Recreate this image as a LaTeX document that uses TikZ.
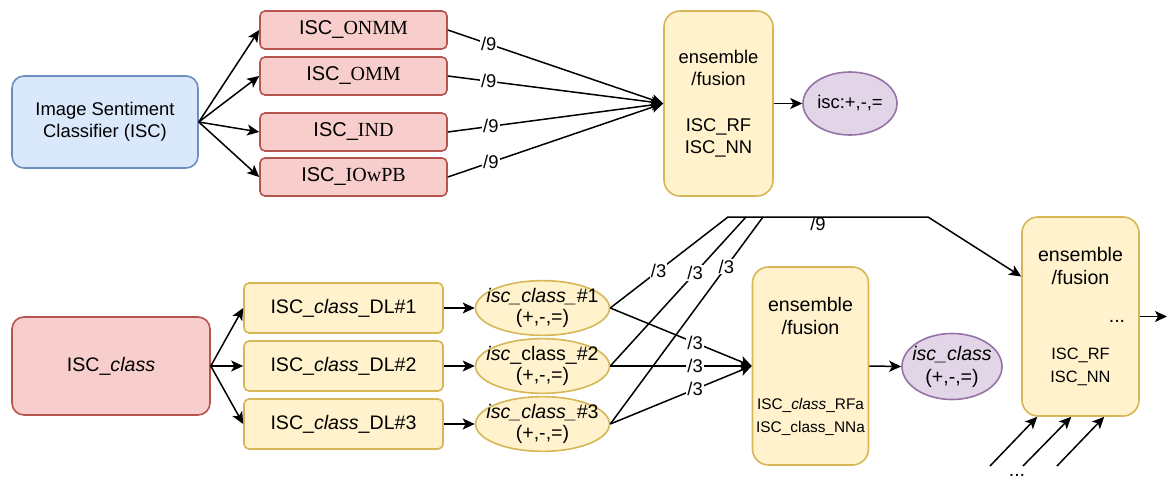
\documentclass[tikz,border=0pt]{standalone}
\usepackage{fontspec}
\setmainfont{Liberation Sans}
\newfontfamily\tnr{Liberation Serif}
\usepackage{xcolor}
\definecolor{bluefill}{HTML}{DAE8FC}
\definecolor{bluedraw}{HTML}{6C8EBF}
\definecolor{redfill}{HTML}{F8CECC}
\definecolor{reddraw}{HTML}{B85450}
\definecolor{yelfill}{HTML}{FFF2CC}
\definecolor{yeldraw}{HTML}{D6B656}
\definecolor{purfill}{HTML}{E1D5E7}
\definecolor{purdraw}{HTML}{9673A6}
\usepackage{tikz}
\usetikzlibrary{arrows.meta,shapes.geometric,calc}

\begin{document}
\begin{tikzpicture}[x=0.5pt,y=-0.5pt,font=\fontsize{9.8}{11.5}\selectfont,
  box/.style={draw,line width=0.8pt,rectangle,inner sep=0pt,align=center},
  bluebox/.style={box,fill=bluefill,draw=bluedraw,rounded corners=6pt},
  redbox/.style={box,fill=redfill,draw=reddraw,rounded corners=2.5pt},
  yelbox/.style={box,fill=yelfill,draw=yeldraw,rounded corners=2.5pt},
  fusebox/.style={box,fill=yelfill,draw=yeldraw,rounded corners=8pt},
  yelell/.style={draw=yeldraw,fill=yelfill,line width=0.8pt,ellipse,inner xsep=-4.5pt,inner ysep=0pt,align=center},
  purell/.style={draw=purdraw,fill=purfill,line width=0.8pt,ellipse,inner xsep=-2.5pt,inner ysep=0pt,align=center},
  conn/.style={line width=0.75pt,-{Stealth[length=6pt,width=5.5pt,inset=1.5pt]}},
  plain/.style={line width=0.75pt},
  lbl/.style={font=\fontsize{9.2}{10}\selectfont,fill=white,inner sep=0.5pt}]
  \useasboundingbox (0,0) rectangle (1167,482);

  % top row: ISC and its four variants
  \node[bluebox,minimum width=93pt,minimum height=46pt,font=\fontsize{9.2}{11}\selectfont]
    (isc) at (105,122) {Image Sentiment\\Classifier (ISC)};
  \node[redbox,minimum width=93.5pt,minimum height=19pt,font=\fontsize{10}{12}\selectfont]
    (onmm) at (353.5,30) {ISC\_{\tnr ONMM}};
  \node[redbox,minimum width=93.5pt,minimum height=19pt,font=\fontsize{10}{12}\selectfont]
    (omm) at (353.5,76) {ISC\_{\tnr OMM}};
  \node[redbox,minimum width=93.5pt,minimum height=19pt,font=\fontsize{10}{12}\selectfont]
    (ind) at (353.5,132) {ISC\_{\tnr IND}};
  \node[redbox,minimum width=93.5pt,minimum height=19pt,font=\fontsize{10}{12}\selectfont]
    (iowpb) at (353.5,177) {ISC\_{\tnr IOwPB}};
  \draw[conn] (isc.east) -- (onmm.west);
  \draw[conn] (isc.east) -- (omm.west);
  \draw[conn] (isc.east) -- (ind.west);
  \draw[conn] (isc.east) -- (iowpb.west);

  % first fusion
  \node[fusebox,minimum width=54.5pt,minimum height=92.5pt,font=\fontsize{9.2}{10.8}\selectfont]
    (ens1) at (718.5,103.5) {ensemble\\/fusion\\[12.5pt]ISC\_RF\\ISC\_NN};
  \node[purell,minimum width=47pt,minimum height=31.5pt,font=\fontsize{9.2}{11}\selectfont]
    (iscout) at (850,103.5) {isc:+,-,=};
  \draw[conn] (onmm.east) -- node[lbl,pos=0.19] {/9} (ens1.west);
  \draw[conn] (omm.east) -- node[lbl,pos=0.19] {/9} (ens1.west);
  \draw[conn] (ind.east) -- node[lbl,pos=0.2] {/9} (ens1.west);
  \draw[conn] (iowpb.east) -- node[lbl,pos=0.2] {/9} (ens1.west);
  \draw[conn] (ens1.east) -- (iscout.west);

  % bottom row: ISC_class and its three DL models
  \node[redbox,rounded corners=6pt,minimum width=99pt,minimum height=49pt]
    (iscclass) at (111,366) {ISC\_\textit{class}};
  \node[yelbox,minimum width=99.5pt,minimum height=25pt] (dl1) at (343.5,308) {ISC\_\textit{class}\_DL\#1};
  \node[yelbox,minimum width=99.5pt,minimum height=25pt] (dl2) at (343.5,366) {ISC\_\textit{class}\_DL\#2};
  \node[yelbox,minimum width=99.5pt,minimum height=25pt] (dl3) at (343.5,424) {ISC\_\textit{class}\_DL\#3};
  \draw[conn] (iscclass.east) -- (dl1.west);
  \draw[conn] (iscclass.east) -- (dl2.west);
  \draw[conn] (iscclass.east) -- (dl3.west);

  % per-model outputs
  \node[yelell,minimum width=67pt,minimum height=24pt,font=\fontsize{9.8}{10.2}\selectfont]
    (cls1) at (542.5,308) {\textit{isc\_class\_}\#1\\(+,-,=)};
  \node[yelell,minimum width=67pt,minimum height=24pt,font=\fontsize{9.8}{10.2}\selectfont]
    (cls2) at (542.5,366) {\textit{isc}\_class\_\#2\\(+,-,=)};
  \node[yelell,minimum width=67pt,minimum height=24pt,font=\fontsize{9.8}{10.2}\selectfont]
    (cls3) at (542.5,424) {\textit{isc\_class\_}\#3\\(+,-,=)};
  \draw[conn] (dl1.east) -- (cls1.west);
  \draw[conn] (dl2.east) -- (cls2.west);
  \draw[conn] (dl3.east) -- (cls3.west);

  % second fusion
  \node[fusebox,minimum width=58pt,minimum height=99pt]
    (ens2) at (810.5,366) {ensemble\\/fusion\\[26pt]{\fontsize{7.7}{11}\selectfont ISC\_\textit{class}\_RFa}\\{\fontsize{7.7}{11}\selectfont ISC\_class\_NNa}};
  \node[purell,minimum width=50pt,minimum height=33pt]
    (clsout) at (952,366.5) {\textit{isc\_class}\\(+,-,=)};
  \draw[conn] (cls1.east) -- node[lbl,pos=0.6] {/3} (ens2.west);
  \draw[conn] (cls2.east) -- node[lbl,pos=0.6] {/3} (ens2.west);
  \draw[conn] (cls3.east) -- node[lbl,pos=0.6] {/3} (ens2.west);
  \draw[conn] (ens2.east) -- (clsout.west);

  % third fusion, fed over the top
  \node[fusebox,minimum width=58.5pt,minimum height=99.5pt]
    (ens3) at (1080.5,316.5) {ensemble\\/fusion\\[26pt]{\fontsize{8.2}{11}\selectfont ISC\_RF}\\{\fontsize{8.2}{11}\selectfont ISC\_NN}};
  \node (ens3dots) at (1117,321) {...};
  \coordinate (hl1) at (728,217);
  \coordinate (hl2) at (746,217);
  \coordinate (hl3) at (763,217);
  \coordinate (hr) at (928,217);
  \draw[conn] (cls1.east) -- node[lbl,pos=0.41] {/3} (hl1)
    -- node[lbl,pos=0.45,yshift=-3.5pt,fill=none] {/9} (hr) -- (ens3.146);
  \draw[plain] (cls2.east) -- node[lbl,pos=0.625] {/3} (hl2);
  \draw[plain] (cls3.east) -- node[lbl,pos=0.76] {/3} (hl3);
  \coordinate (out3) at (1167,316.5);
  \draw[conn] (ens3.east) -- (out3);

  % more inputs from below
  \coordinate (in1) at (990,466);
  \coordinate (in2) at (1023,466);
  \coordinate (in3) at (1057,466);
  \draw[conn] (in1) -- ($(ens3.south west)+(16,0)$);
  \draw[conn] (in2) -- ($(ens3.south west)+(50,0)$);
  \draw[conn] (in3) -- ($(ens3.south west)+(83,0)$);
  \node (indots) at (1017,475) {...};
\end{tikzpicture}
\end{document}
